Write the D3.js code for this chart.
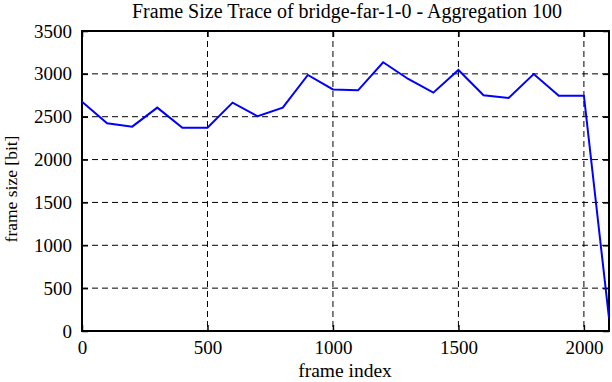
<!DOCTYPE html>
<html><head><meta charset="utf-8">
<script src="https://cdn.jsdelivr.net/npm/d3@7"></script>
<style>body{margin:0;background:#fff}svg{display:block}text{font-family:"Liberation Serif","Times New Roman",serif;fill:#000}</style>
</head><body><svg id="c" width="612" height="382"></svg>
<script>
const frames = [0,100,200,300,400,500,600,700,800,900,1000,1100,1200,1300,1400,1500,1600,1700,1800,1900,2000,2100];
const sizes = [2675,2423,2384,2606,2372,2372,2664,2505,2606,2987,2818,2808,3135,2940,2781,3045,2750,2718,2998,2745,2745,150];
const xTicks = [0,500,1000,1500,2000];
const yTicks = [0,500,1000,1500,2000,2500,3000,3500];
const title = "Frame Size Trace of bridge-far-1-0 - Aggregation 100";

const svg = d3.select("#c");
const m = {l:82, r:609, t:31, b:331};
const x = d3.scaleLinear().domain([0,2100]).range([m.l,m.r]);
const y = d3.scaleLinear().domain([0,3500]).range([m.b,m.t]);

// grid
svg.append("g").selectAll("line").data(xTicks.filter(d=>d>0)).join("line")
  .attr("x1",d=>x(d)).attr("x2",d=>x(d)).attr("y1",m.t).attr("y2",m.b)
  .attr("stroke","#000").attr("stroke-width",1).attr("stroke-dasharray","6,4");
svg.append("g").selectAll("line").data(yTicks.filter(d=>d>0&&d<3500)).join("line")
  .attr("x1",m.l).attr("x2",m.r).attr("y1",d=>y(d)).attr("y2",d=>y(d))
  .attr("stroke","#000").attr("stroke-width",1).attr("stroke-dasharray","6,4");

// axes
const fs = 19;
const fmt = d3.format("d");
const xa = svg.append("g").attr("transform",`translate(0,${m.b})`).call(d3.axisBottom(x).tickValues(xTicks).tickSize(-6).tickPadding(10).tickFormat(fmt));
const ya = svg.append("g").attr("transform",`translate(${m.l},0)`).call(d3.axisLeft(y).tickValues(yTicks).tickSize(-6).tickPadding(10).tickFormat(fmt));
const xt = svg.append("g").attr("transform",`translate(0,${m.t})`).call(d3.axisTop(x).tickValues(xTicks).tickSize(-6).tickFormat(""));
const yr = svg.append("g").attr("transform",`translate(${m.r},0)`).call(d3.axisRight(y).tickValues(yTicks).tickSize(-6).tickFormat(""));
[xa,ya,xt,yr].forEach(g=>{
  g.attr("font-family",null).attr("font-size",null);
  g.select(".domain").remove();
  g.selectAll("line").attr("stroke","#000").attr("stroke-width",1.5);
  g.selectAll("text").attr("font-size",fs).attr("font-family","Liberation Serif");
});

// frame
svg.append("rect").attr("x",m.l).attr("y",m.t).attr("width",m.r-m.l).attr("height",m.b-m.t)
  .attr("fill","none").attr("stroke","#000").attr("stroke-width",2);

// line
svg.append("clipPath").attr("id","cp").append("rect").attr("x",m.l).attr("y",m.t).attr("width",m.r-m.l).attr("height",m.b-m.t);
svg.append("path").datum(frames.map((f,i)=>[f,sizes[i]]))
  .attr("d",d3.line().x(d=>x(d[0])).y(d=>y(d[1])))
  .attr("fill","none").attr("stroke","#0000ff").attr("stroke-width",2).attr("clip-path","url(#cp)");

// texts
svg.append("text").attr("x",347).attr("y",18).attr("text-anchor","middle").attr("font-size",20).text(title);
svg.append("text").attr("x",345).attr("y",377).attr("text-anchor","middle").attr("font-size",19.5).text("frame index");
svg.append("text").attr("transform",`translate(17,189) rotate(-90)`).attr("text-anchor","middle").attr("font-size",17.5).text("frame size [bit]");
</script></body></html>
